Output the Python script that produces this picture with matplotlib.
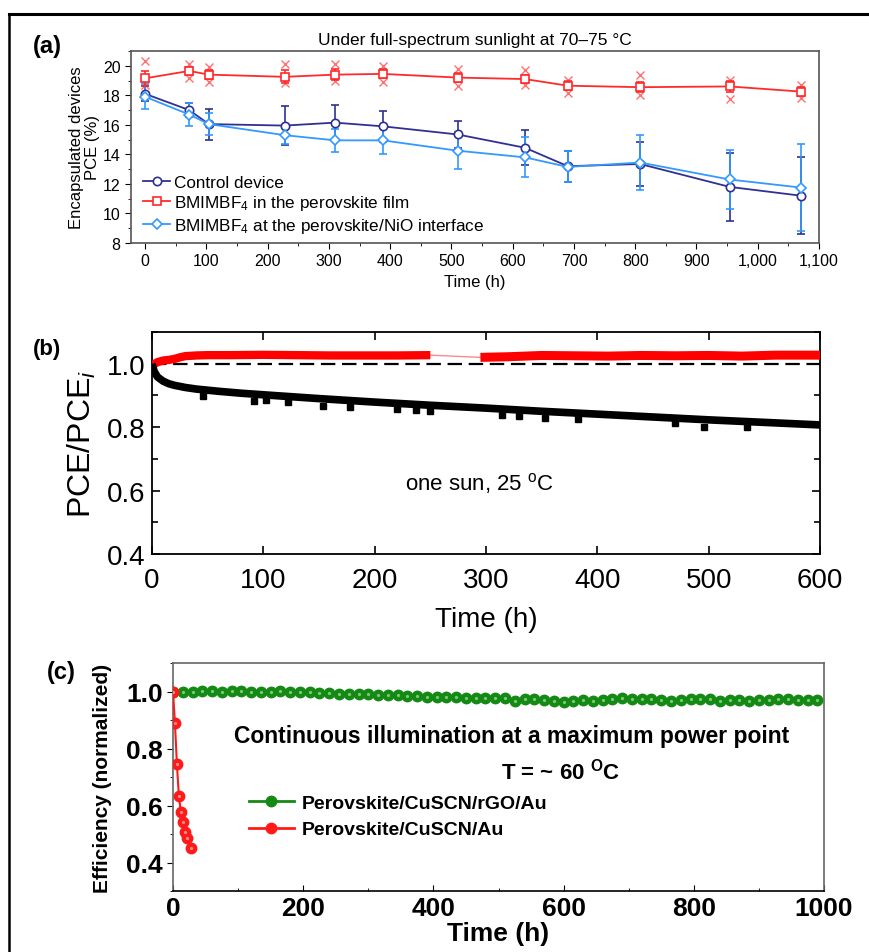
import matplotlib
matplotlib.use("Agg")
import matplotlib.pyplot as plt
from matplotlib.lines import Line2D
from matplotlib.ticker import MultipleLocator, FuncFormatter, FormatStrFormatter

plt.rcParams['font.family'] = ['Liberation Sans', 'DejaVu Sans']
plt.rcParams['mathtext.fontset'] = 'custom'
plt.rcParams['mathtext.rm'] = 'Liberation Sans'
plt.rcParams['mathtext.it'] = 'Liberation Sans:italic'
plt.rcParams['mathtext.bf'] = 'Liberation Sans:bold'

# ---- panel (a): encapsulated devices at 70-75 C ----
times_a = [0, 72, 104, 228, 310, 388, 510, 620, 690, 808, 954, 1071]
control = [18.1, 17.0, 16.05, 15.95, 16.15, 15.9, 15.35, 14.45, 13.2, 13.35, 11.8, 11.2]
control_err = [0.5, 0.5, 1.05, 1.3, 1.2, 1.05, 0.9, 1.2, 1.05, 1.5, 2.3, 2.6]
film = [19.15, 19.65, 19.4, 19.25, 19.4, 19.45, 19.2, 19.1, 18.65, 18.55, 18.6, 18.25]
film_err = [0.5, 0.3, 0.3, 0.45, 0.35, 0.3, 0.3, 0.3, 0.3, 0.35, 0.35, 0.3]
film_hi = [20.3, 20.1, 19.9, 20.1, 20.1, 20.0, 19.8, 19.7, 19.05, 19.4, 19.05, 18.7]
film_lo = [18.7, 19.15, 18.9, 18.8, 19.0, 18.9, 18.6, 18.7, 18.15, 18.0, 17.75, 17.8]
interface = [17.9, 16.7, 16.05, 15.3, 14.95, 14.95, 14.25, 13.8, 13.15, 13.45, 12.3, 11.75]
interface_err = [0.85, 0.8, 0.75, 0.6, 0.8, 0.95, 1.25, 1.35, 1.05, 1.85, 2.0, 2.95]

# ---- panel (b): PCE/PCE_i at one sun, 25 C ----
black_t = [0, 2, 5, 10, 15, 20, 30, 40, 60, 80, 100, 150, 200, 250, 300, 350, 400, 450, 500, 550, 600]
black_v = [1.0, 0.975, 0.958, 0.945, 0.937, 0.932, 0.925, 0.92, 0.913, 0.907, 0.902, 0.89, 0.879,
           0.869, 0.86, 0.85, 0.841, 0.832, 0.823, 0.815, 0.807]
dip_t = [46, 92, 102, 122, 154, 178, 220, 237, 250, 314, 330, 353, 383, 470, 496, 534]
dip_v = [0.898, 0.884, 0.887, 0.879, 0.868, 0.863, 0.856, 0.853, 0.852, 0.837, 0.836, 0.83, 0.825,
         0.812, 0.801, 0.801]
red_t1 = [0, 5, 10, 15, 20, 25, 30, 40, 50, 70, 100, 130, 160, 190, 220, 250]
red_v1 = [0.995, 1.005, 1.01, 1.012, 1.015, 1.02, 1.024, 1.026, 1.027, 1.027, 1.028, 1.027, 1.026,
          1.026, 1.026, 1.027]
red_t2 = [295, 320, 350, 380, 410, 440, 470, 500, 530, 560, 600]
red_v2 = [1.02, 1.022, 1.026, 1.025, 1.024, 1.026, 1.025, 1.026, 1.024, 1.027, 1.027]

# ---- panel (c): maximum power point tracking at ~60 C ----
green_t = [0, 15, 30, 45, 60, 75, 90, 105, 120, 135, 150, 165, 180, 195, 210,
           225, 240, 255, 270, 285, 300, 315, 330, 345, 360, 375, 390, 405, 420, 435,
           450, 465, 480, 495, 510, 525, 540, 555, 570, 585, 600, 615, 630, 645, 660,
           675, 690, 705, 720, 735, 750, 765, 780, 795, 810, 825, 840, 855, 870, 885,
           900, 915, 930, 945, 960, 975, 990]
green_v = [1.0, 1.0, 1.0, 1.002, 1.002, 1.0, 1.002, 1.003, 0.998, 1.0, 0.998, 1.002, 1.0, 0.998, 0.997,
           0.995, 0.993, 0.992, 0.99, 0.991, 0.99, 0.988, 0.987, 0.988, 0.985, 0.983, 0.982, 0.98, 0.979, 0.98,
           0.978, 0.978, 0.977, 0.977, 0.976, 0.968, 0.975, 0.974, 0.97, 0.965, 0.962, 0.966, 0.97, 0.968, 0.971,
           0.975, 0.977, 0.975, 0.973, 0.972, 0.97, 0.968, 0.97, 0.972, 0.974, 0.972, 0.966, 0.969, 0.969, 0.968,
           0.971, 0.97, 0.972, 0.973, 0.971, 0.97, 0.969]
red_c_t = [0, 3, 6, 9, 12, 15, 18, 22, 27]
red_c_v = [1.0, 0.889, 0.745, 0.634, 0.578, 0.541, 0.508, 0.485, 0.45]

W, H = 869, 953
fig = plt.figure(figsize=(W / 100, H / 100), dpi=100)

def box(l, t, r, b):
    return [l / W, 1 - b / H, (r - l) / W, (b - t) / H]

# outer frame lines
fig.add_artist(Line2D([9 / W, 1.0], [1 - 15 / H, 1 - 15 / H], color='black', lw=2.2))
fig.add_artist(Line2D([9 / W, 9 / W], [1 - 15 / H, 0], color='black', lw=1.8))

# ================= (a) =================
ax1 = fig.add_axes(box(131, 52, 819, 244))
navy = '#2e3192'
red = '#ff2a2a'
sky = '#3399ff'
ax1.plot(times_a, film_hi, 'x', color='#ff7070', ms=6, mew=1, zorder=2)
ax1.plot(times_a, film_lo, 'x', color='#ff7070', ms=6, mew=1, zorder=2)
ax1.errorbar(times_a, control, yerr=control_err, color=navy, marker='o', mfc='white', mec=navy,
             ms=6, mew=1.2, lw=1.3, capsize=3, elinewidth=1.2, label='Control device', zorder=3)
ax1.errorbar(times_a, film, yerr=film_err, color=red, marker='s', mfc='white', mec=red,
             ms=6, mew=1.2, lw=1.3, capsize=3, elinewidth=1.2,
             label='BMIMBF$_4$ in the perovskite film', zorder=4)
ax1.errorbar(times_a, interface, yerr=interface_err, color=sky, marker='D', mfc='white', mec=sky,
             ms=5.5, mew=1.2, lw=1.3, capsize=3, elinewidth=1.2,
             label='BMIMBF$_4$ at the perovskite/NiO interface', zorder=3)
ax1.set_xlim(-23, 1100)
ax1.set_ylim(8, 21)
ax1.xaxis.set_major_locator(MultipleLocator(100))
ax1.xaxis.set_minor_locator(MultipleLocator(50))
ax1.yaxis.set_major_locator(MultipleLocator(2))
ax1.yaxis.set_minor_locator(MultipleLocator(1))
ax1.xaxis.set_major_formatter(FuncFormatter(lambda v, p: '{:,.0f}'.format(v)))
ax1.tick_params(which='both', direction='out', labelsize=11.5, top=False, right=False)
ax1.tick_params(which='major', length=4)
ax1.tick_params(which='minor', length=2.5)
for s in ax1.spines.values():
    s.set_color('#555555')
    s.set_linewidth(1.2)
ax1.set_xlabel('Time (h)', fontsize=12, labelpad=4)
ax1.set_ylabel('Encapsulated devices\nPCE (%)', fontsize=12, labelpad=2, linespacing=1.1)
ax1.set_title('Under full-spectrum sunlight at 70\u201375 \u00b0C', fontsize=12.5, pad=5)
hs, ls = ax1.get_legend_handles_labels()
hs = [h[0] for h in hs]
ax1.legend(hs, ls, loc='lower left', bbox_to_anchor=(0.0, -0.02), frameon=False, fontsize=12.3,
           handlelength=1.6, handletextpad=0.2, labelspacing=0.2, borderaxespad=0.3)
fig.text(47 / W, 1 - 47 / H, '(a)', fontsize=17, fontweight='bold', ha='center', va='center')

# ================= (b) =================
ax2 = fig.add_axes(box(152, 333, 820, 555))
ax2.axhline(1.0, color='black', lw=1.6, dashes=(6.5, 3), zorder=1)
ax2.plot([250, 295], [1.027, 1.02], color='#ff8a8a', lw=1, zorder=2)
ax2.plot(red_t1, red_v1, color='#ff0000', lw=6, solid_capstyle='butt', zorder=3)
ax2.plot(red_t2, red_v2, color='#ff0000', lw=6.5, solid_capstyle='butt', zorder=3)
ax2.plot(black_t, black_v, color='black', lw=5.5, solid_capstyle='butt', zorder=3)
ax2.plot(dip_t, dip_v, 's', color='black', ms=4.5, zorder=3)
ax2.set_xlim(0, 600)
ax2.set_ylim(0.4, 1.1)
ax2.xaxis.set_major_locator(MultipleLocator(100))
ax2.yaxis.set_major_locator(MultipleLocator(0.2))
ax2.yaxis.set_minor_locator(MultipleLocator(0.1))
ax2.yaxis.set_major_formatter(FormatStrFormatter('%.1f'))
ax2.tick_params(which='both', direction='in', top=True, right=True, labelsize=20, width=1.2)
ax2.tick_params(which='major', length=6)
ax2.tick_params(axis='x', which='major', pad=9)
ax2.tick_params(axis='y', which='major', pad=5)
ax2.tick_params(which='minor', length=4)
for s in ax2.spines.values():
    s.set_linewidth(1.3)
ax2.set_xlabel('Time (h)', fontsize=20, labelpad=10)
ax2.set_ylabel('PCE/PCE$_i$', fontsize=23, labelpad=6)
ax2.text(0.49, 0.32, 'one sun, 25 $^{\\rm o}$C', transform=ax2.transAxes, fontsize=16,
         ha='center', va='center')
fig.text(47 / W, 1 - 350 / H, '(b)', fontsize=16, fontweight='bold', ha='center', va='center')

# ================= (c) =================
ax3 = fig.add_axes(box(173, 664, 824, 892))
ax3.plot(green_t, green_v, '-o', color='#148a14', ms=7.5, lw=1.5, zorder=3,
         label='Perovskite/CuSCN/rGO/Au')
ax3.plot(green_t, green_v, 'o', color='#7cc87c', ms=1.3, zorder=4)
ax3.plot(red_c_t, red_c_v, '-o', color='#ff1a1a', ms=7.5, lw=1.5, zorder=5,
         label='Perovskite/CuSCN/Au')
ax3.plot(red_c_t, red_c_v, 'o', color='#ff8a8a', ms=1.3, zorder=6)
ax3.set_xlim(0, 1000)
ax3.set_ylim(0.3, 1.1)
ax3.xaxis.set_major_locator(MultipleLocator(200))
ax3.xaxis.set_minor_locator(MultipleLocator(100))
ax3.yaxis.set_major_locator(MultipleLocator(0.2))
ax3.yaxis.set_minor_locator(MultipleLocator(0.1))
ax3.set_yticks([0.4, 0.6, 0.8, 1.0])
ax3.yaxis.set_major_formatter(FormatStrFormatter('%.1f'))
ax3.tick_params(axis='x', which='both', direction='in')
ax3.tick_params(axis='y', which='both', direction='out')
ax3.tick_params(which='major', length=4, labelsize=19)
ax3.tick_params(which='minor', length=2.5)
for lab in ax3.get_xticklabels() + ax3.get_yticklabels():
    lab.set_fontweight('bold')
for k, s in ax3.spines.items():
    s.set_color('#666666')
    s.set_linewidth(1.2)
ax3.spines['bottom'].set_color('black')
ax3.set_xlabel('Time (h)', fontsize=19, fontweight='bold', labelpad=1)
ax3.set_ylabel('Efficiency (normalized)', fontsize=15, fontweight='bold', labelpad=10)
ax3.text(0.52, 0.68, 'Continuous illumination at a maximum power point', transform=ax3.transAxes,
         fontsize=16.5, fontweight='bold', ha='center', va='center')
ax3.text(0.595, 0.53, 'T = ~ 60 $^{\\mathbf{O}}$C', transform=ax3.transAxes,
         fontsize=16, fontweight='bold', ha='center', va='center')
g_handle = Line2D([], [], color='#148a14', marker='o', ms=7.5, lw=2)
r_handle = Line2D([], [], color='#ff1a1a', marker='o', ms=7.5, lw=2)
ax3.legend([g_handle, r_handle], ['Perovskite/CuSCN/rGO/Au', 'Perovskite/CuSCN/Au'],
           loc='upper left', bbox_to_anchor=(0.09, 0.5), frameon=False, numpoints=1,
           prop={'size': 14, 'weight': 'bold'}, handlelength=2.3, handletextpad=0.4,
           labelspacing=0.45)
fig.text(61 / W, 1 - 673 / H, '(c)', fontsize=17, fontweight='bold', ha='center', va='center')

fig.savefig('out.png', dpi=100)
